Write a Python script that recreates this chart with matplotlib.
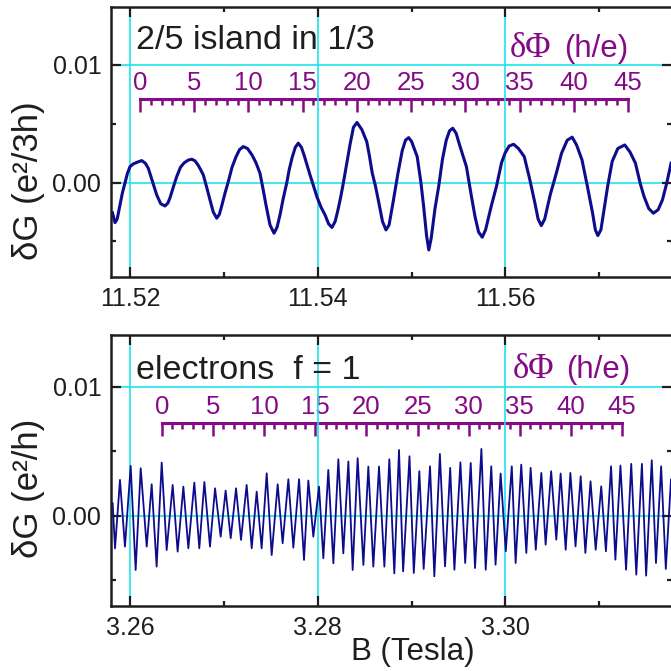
import numpy as np
import matplotlib
matplotlib.use("Agg")
import matplotlib.pyplot as plt
from matplotlib.ticker import MultipleLocator, FixedLocator

plt.rcParams['font.family'] = ['Liberation Sans', 'DejaVu Sans']

# --- top panel: 2/5 island in 1/3 (B in T, dG in e^2/3h)
top_b = [11.51810, 11.51837, 11.51860, 11.51890, 11.51915, 11.51943, 11.51970, 11.51997,
         11.52032, 11.52082, 11.52122, 11.52160, 11.52192, 11.52240, 11.52282, 11.52325,
         11.52370, 11.52400, 11.52423, 11.52460, 11.52495, 11.52535, 11.52573, 11.52615,
         11.52655, 11.52690, 11.52722, 11.52750, 11.52779, 11.52815, 11.52850, 11.52885,
         11.52922, 11.52950, 11.52978, 11.53010, 11.53045, 11.53085, 11.53127, 11.53165,
         11.53205, 11.53250, 11.53298, 11.53340, 11.53383, 11.53415, 11.53447, 11.53490,
         11.53533, 11.53565, 11.53597, 11.53630, 11.53668, 11.53695, 11.53725, 11.53760,
         11.53792, 11.53825, 11.53853, 11.53885, 11.53917, 11.53955, 11.53991, 11.54035,
         11.54077, 11.54115, 11.54151, 11.54185, 11.54215, 11.54245, 11.54272, 11.54310,
         11.54343, 11.54380, 11.54418, 11.54470, 11.54522, 11.54550, 11.54581, 11.54615,
         11.54645, 11.54690, 11.54727, 11.54760, 11.54800, 11.54855, 11.54900, 11.54935,
         11.54969, 11.55000, 11.55060, 11.55100, 11.55129, 11.55160, 11.55184, 11.55210,
         11.55250, 11.55289, 11.55330, 11.55370, 11.55405, 11.55439, 11.55475, 11.55520,
         11.55585, 11.55635, 11.55677, 11.55715, 11.55754, 11.55790, 11.55850, 11.55905,
         11.55960, 11.55997, 11.56040, 11.56088, 11.56140, 11.56202, 11.56260, 11.56316,
         11.56350, 11.56384, 11.56420, 11.56480, 11.56544, 11.56600, 11.56660, 11.56713,
         11.56760, 11.56818, 11.56880, 11.56931, 11.56960, 11.56987, 11.57020, 11.57091,
         11.57140, 11.57200, 11.57274, 11.57330, 11.57388, 11.57440, 11.57480, 11.57530,
         11.57580, 11.57630, 11.57676, 11.57720, 11.57768]
top_g = [-0.00257, -0.00340, -0.00310, -0.00189, -0.00090, -0.00003, 0.00080, 0.00136,
         0.00159, 0.00176, 0.00187, 0.00165, 0.00122, 0.00000, -0.00105, -0.00180,
         -0.00198, -0.00175, -0.00130, -0.00035, 0.00051, 0.00130, 0.00167, 0.00190,
         0.00199, 0.00185, 0.00150, 0.00110, 0.00065, -0.00040, -0.00147, -0.00250,
         -0.00302, -0.00270, -0.00189, -0.00090, 0.00008, 0.00130, 0.00218, 0.00280,
         0.00306, 0.00290, 0.00235, 0.00170, 0.00080, -0.00050, -0.00189, -0.00360,
         -0.00430, -0.00380, -0.00274, -0.00140, -0.00005, 0.00110, 0.00210, 0.00300,
         0.00335, 0.00300, 0.00235, 0.00150, 0.00065, -0.00030, -0.00121, -0.00210,
         -0.00274, -0.00350, -0.00381, -0.00330, -0.00232, -0.00120, -0.00005, 0.00170,
         0.00320, 0.00470, 0.00511, 0.00450, 0.00348, 0.00230, 0.00080, -0.00030,
         -0.00147, -0.00330, -0.00402, -0.00360, -0.00180, 0.00080, 0.00270, 0.00360,
         0.00382, 0.00350, 0.00221, 0.00000, -0.00204, -0.00450, -0.00572, -0.00470,
         -0.00220, -0.00034, 0.00200, 0.00360, 0.00440, 0.00462, 0.00420, 0.00300,
         0.00136, -0.00100, -0.00289, -0.00420, -0.00464, -0.00400, -0.00200, -0.00034,
         0.00170, 0.00250, 0.00310, 0.00326, 0.00290, 0.00221, 0.00030, -0.00175,
         -0.00310, -0.00365, -0.00310, -0.00100, 0.00080, 0.00250, 0.00360, 0.00386,
         0.00320, 0.00193, -0.00050, -0.00260, -0.00400, -0.00450, -0.00400, -0.00034,
         0.00180, 0.00290, 0.00320, 0.00260, 0.00165, -0.00010, -0.00119, -0.00220,
         -0.00260, -0.00230, -0.00147, -0.00010, 0.00165]

# --- bottom panel: electrons f = 1 (B in T, dG in e^2/h), peaks and troughs
bot_b = [3.25812, 3.25837, 3.25890, 3.25943, 3.26004, 3.26057, 3.26111, 3.26175, 3.26228,
         3.26281, 3.26335, 3.26388, 3.26452, 3.26505, 3.26566, 3.26619, 3.26683, 3.26736,
         3.26790, 3.26850, 3.26904, 3.26964, 3.27017, 3.27071, 3.27128, 3.27181, 3.27241,
         3.27295, 3.27348, 3.27401, 3.27455, 3.27508, 3.27572, 3.27625, 3.27686, 3.27739,
         3.27800, 3.27853, 3.27899, 3.27952, 3.28013, 3.28059, 3.28112, 3.28166, 3.28219,
         3.28272, 3.28326, 3.28372, 3.28425, 3.28486, 3.28539, 3.28592, 3.28653, 3.28710,
         3.28763, 3.28816, 3.28866,
         3.28910, 3.28978, 3.29024, 3.29083, 3.29129, 3.29197, 3.29243, 3.29302, 3.29357,
         3.29412, 3.29457, 3.29521, 3.29572, 3.29631, 3.29677, 3.29745, 3.29791, 3.29850,
         3.29896, 3.29950, 3.30005, 3.30069, 3.30110, 3.30170, 3.30224, 3.30270, 3.30325,
         3.30384, 3.30430, 3.30489, 3.30544, 3.30590, 3.30644, 3.30694, 3.30749, 3.30804,
         3.30854, 3.30909, 3.30964, 3.31023, 3.31073, 3.31128, 3.31174, 3.31228, 3.31288,
         3.31343, 3.31397, 3.31457, 3.31502, 3.31562, 3.31607, 3.31662, 3.31712, 3.31767]
bot_g = [0.00096, -0.00253, 0.00277, -0.00240, 0.00385, -0.00421, 0.00367, -0.00240, 0.00243,
         -0.00395, 0.00411, -0.00266, 0.00238, -0.00279, 0.00225, -0.00253, 0.00256, -0.00253,
         0.00261, -0.00240, 0.00212, -0.00163, 0.00194, -0.00175, 0.00212, -0.00188, 0.00238,
         -0.00253, 0.00186, -0.00253, 0.00328, -0.00305, 0.00243, -0.00214, 0.00282, -0.00248,
         0.00282, -0.00343, 0.00272, -0.00163, 0.00225, -0.00330, 0.00354, -0.00369, 0.00437,
         -0.00292, 0.00419, -0.00421, 0.00445, -0.00382, 0.00380, -0.00395, 0.00380, -0.00395,
         0.00437, -0.00447, 0.00509,
         -0.00432, 0.00460, -0.00444, 0.00344, -0.00413, 0.00382, -0.00470, 0.00478, -0.00393,
         0.00370, -0.00419, 0.00413, -0.00367, 0.00408, -0.00406, 0.00517, -0.00419, 0.00382,
         -0.00380, 0.00326, -0.00276, 0.00382, -0.00367, 0.00395, -0.00289, 0.00370, -0.00264,
         0.00331, -0.00225, 0.00344, -0.00186, 0.00326, -0.00264, 0.00331, -0.00238, 0.00305,
         -0.00289, 0.00266, -0.00264, 0.00227, -0.00276, 0.00382, -0.00341, 0.00388, -0.00419,
         0.00401, -0.00457, 0.00401, -0.00465, 0.00429, -0.00367, 0.00382, -0.00413, 0.00279]

# flux scale (h/e): B field at flux 0 and flux 45 on each panel
flux_labels = [0, 5, 10, 15, 20, 25, 30, 35, 40, 45]
flux_minor = list(range(0, 46))
top_flux_b = (11.52103, 11.57309)
bot_flux_b = (3.26338, 3.31245)

navy = '#0c0c8c'
cyan = '#1de4ee'
purple = '#850a85'
dark = '#1e1e1e'

fig = plt.figure(figsize=(6.71, 6.71), dpi=100)
ax1 = fig.add_axes([0.1654, 0.5868, 0.8361, 0.4033])
ax2 = fig.add_axes([0.1654, 0.0969, 0.8361, 0.4039])


def style(ax, xlim, ylim, major_x):
    ax.set_xlim(*xlim)
    ax.set_ylim(*ylim)
    ax.xaxis.set_major_locator(FixedLocator(major_x))
    ax.xaxis.set_minor_locator(MultipleLocator(0.01))
    ax.yaxis.set_major_locator(FixedLocator([0.0, 0.01]))
    ax.yaxis.set_minor_locator(FixedLocator([-0.005, 0.005]))
    ax.set_yticklabels(['0.00', '0.01'])
    ax.grid(True, which='major', color=cyan, linewidth=1.2)
    ax.set_axisbelow(True)
    ax.tick_params(which='both', direction='in', top=True, right=True,
                   width=1.6, color=dark, labelsize=18, labelcolor=dark, pad=7)
    ax.tick_params(which='major', length=7)
    ax.tick_params(which='minor', length=3.5)
    for s in ax.spines.values():
        s.set_linewidth(1.8)
        s.set_color(dark)


def flux_scale(ax, fb, ypos):
    b0, b45 = fb
    step = (b45 - b0) / 45.0
    sec = ax.secondary_xaxis(ypos, functions=(lambda b: (b - b0) / step,
                                              lambda f: b0 + f * step))
    sec.xaxis.set_major_locator(FixedLocator(flux_labels))
    sec.xaxis.set_minor_locator(FixedLocator(flux_minor))
    sec.tick_params(which='both', direction='in', color=purple, width=1.8,
                    labelsize=18.5, labelcolor=purple, pad=3)
    sec.tick_params(which='major', length=9.5)
    sec.tick_params(which='minor', length=4.5)
    sec.spines['top'].set_color(purple)
    sec.spines['top'].set_linewidth(2.2)
    sec.spines['top'].set_bounds(0, 45)


def flux_title(ax, x0, x1, y):
    ax.text(x0, y, 'δΦ', transform=ax.transAxes, fontsize=25, color=purple,
            va='center', family=['Liberation Serif', 'DejaVu Serif'])
    ax.text(x1, y, '(h/e)', transform=ax.transAxes, fontsize=22.5,
            color=purple, va='center')


style(ax1, (11.51794, 11.57778), (-0.00804, 0.01495), [11.52, 11.54, 11.56])
ax1.set_xticklabels(['11.52', '11.54', '11.56'])
ax1.plot(top_b, top_g, color=navy, linewidth=2.2, solid_joinstyle='round')
flux_scale(ax1, top_flux_b, 0.659)
ax1.text(0.0446, 0.8447, '2/5 island in 1/3', transform=ax1.transAxes,
         fontsize=24.5, color=dark, va='baseline')
flux_title(ax1, 0.711, 0.808, 0.8437)

style(ax2, (3.25794, 3.31778), (-0.0070, 0.0140), [3.26, 3.28, 3.30])
ax2.set_xticklabels(['3.26', '3.28', '3.30'])
ax2.plot(bot_b, bot_g, color=navy, linewidth=1.3, solid_joinstyle='round')
flux_scale(ax2, bot_flux_b, 0.675)
ax2.text(0.0446, 0.8376, 'electrons  f = 1', transform=ax2.transAxes,
         fontsize=24.5, color=dark, va='baseline')
flux_title(ax2, 0.7155, 0.811, 0.871)

fig.text(0.0432, 0.730, 'δG (e²/3h)', rotation=90, ha='center', va='center',
         fontsize=25, color=dark)
fig.text(0.0432, 0.272, 'δG (e²/h)', rotation=90, ha='center', va='center',
         fontsize=25, color=dark)
fig.text(0.6155, 0.0283, 'B (Tesla)', ha='center', va='center',
         fontsize=22.5, color=dark)

fig.savefig('out.png', dpi=100)
